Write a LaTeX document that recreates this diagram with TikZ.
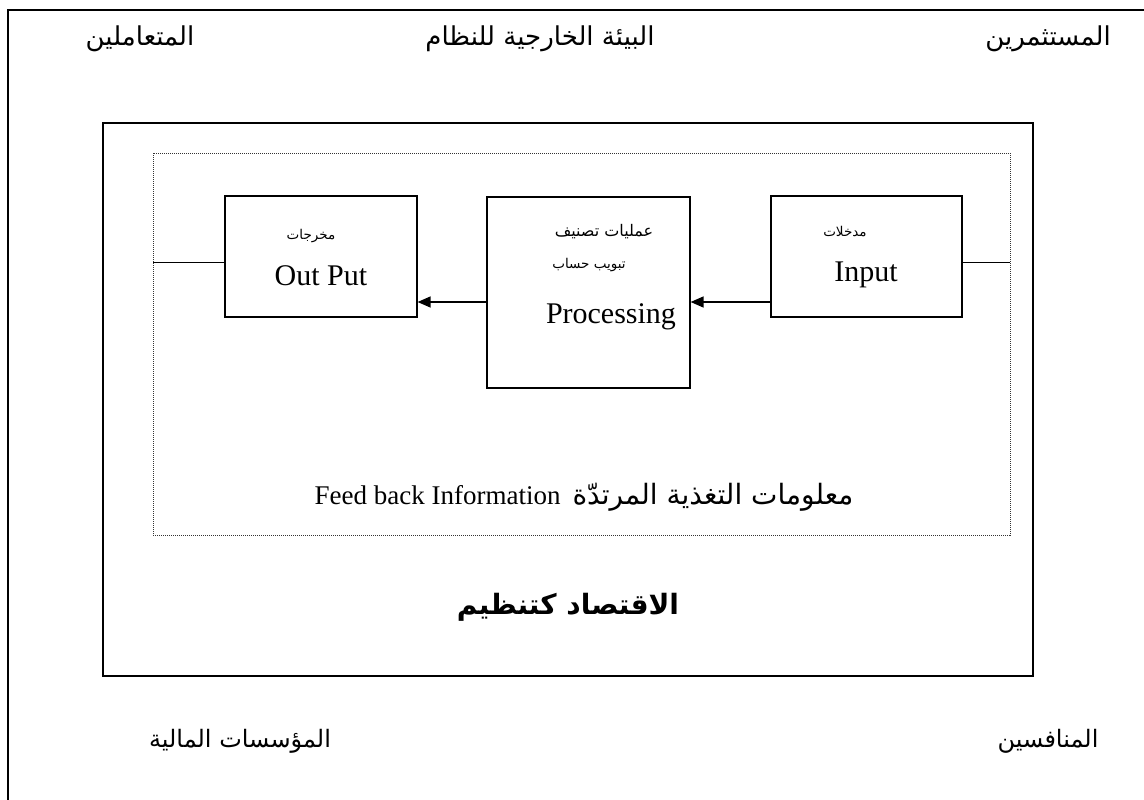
\documentclass[tikz,border=0pt]{standalone}
\usepackage{fontspec}
\setmainfont{Liberation Serif}
\newfontfamily\arabicfont[Script=Arabic]{DejaVu Sans}
\TeXXeTstate=1
\usetikzlibrary{arrows.meta}
\tikzset{
  solidline/.style={line width=1.2pt, black},
  dotline/.style={line width=1pt, densely dotted, black!80},
  boxnode/.style={draw, line width=1.2pt, inner sep=0pt},
  arr/.style={line width=1.4pt, -{Triangle[length=13pt,width=11pt]}},
  artext/.style={inner sep=0pt, font=\arabicfont\fontsize{24}{26}\selectfont},
  toptext/.style={inner sep=0pt, font=\arabicfont\fontsize{26}{28}\selectfont},
  smallar/.style={inner sep=0pt, font=\arabicfont\fontsize{13.5}{15}\selectfont},
  midar/.style={inner sep=0pt, font=\arabicfont\fontsize{16}{18}\selectfont},
  latext/.style={inner sep=0pt, font=\fontsize{30}{32}\selectfont}
}
\begin{document}
\begin{tikzpicture}[x=1pt,y=-1pt]
\useasboundingbox (0,0) rectangle (1144,800);
\begin{scope}
\clip (0,0) rectangle (1144,800);
\draw[solidline] (8,10) rectangle (1160,820);
\end{scope}
% middle frame
\draw[line width=1.2pt] (103,123) rectangle (1033,676);
% dotted frame
\draw[dotline] (153,153) rectangle (1010,535);
% boxes
\node[boxnode, minimum width=192pt, minimum height=121pt] (out) at (321,256.5) {};
\node[boxnode, minimum width=191pt, minimum height=121pt] (inp) at (866.5,256.5) {};
\node[boxnode, minimum width=203pt, minimum height=191pt] (proc) at (588.5,292.5) {};
% texts in boxes
\node[smallar] (outar) at (311,236) {\beginR مخرجات\endR};
\node[latext] (outen) at (321,276) {Out Put};
\node[smallar] (inar) at (845,232) {\beginR مدخلات\endR};
\node[latext] (inen) at (866,275) {Input};
\node[midar] (pr1) at (604,232) {\beginR عمليات تصنيف\endR};
\node[smallar] (pr2) at (589,265) {\beginR تبويب حساب\endR};
\node[latext] (pr3) at (611,317) {Processing};
% connectors
\coordinate (yline) at (0,262);
\coordinate (yarr) at (0,302);
\coordinate (dl) at (153,262);
\coordinate (dr) at (1010,262);
\draw[line width=1pt] (out.west |- yline) -- (dl);
\draw[line width=1pt] (inp.east |- yline) -- (dr);
\draw[arr] (inp.west |- yarr) -- (proc.east |- yarr);
\draw[arr] (proc.west |- yarr) -- (out.east |- yarr);
% outer labels
\node[toptext] (t1) at (140,39) {\beginR المتعاملين\endR};
\node[toptext] (t2) at (540,39) {\beginR البيئة الخارجية للنظام\endR};
\node[toptext] (t3) at (1048,39) {\beginR المستثمرين\endR};
\node[artext] (b1) at (240,741) {\beginR المؤسسات المالية\endR};
\node[artext] (b2) at (1048,741) {\beginR المنافسين\endR};
% title
\node[inner sep=0pt, font=\arabicfont\bfseries\fontsize{28}{30}\selectfont] (title) at (568,607) {\beginR الاقتصاد كتنظيم\endR};
% feedback
\node[inner sep=0pt] (fb) at (584,497) {{\fontsize{27}{29}\selectfont Feed back Information}\hspace{12pt}{\arabicfont\fontsize{28}{30}\selectfont\beginR معلومات التغذية المرتدّة\endR}};
\end{tikzpicture}
\end{document}
